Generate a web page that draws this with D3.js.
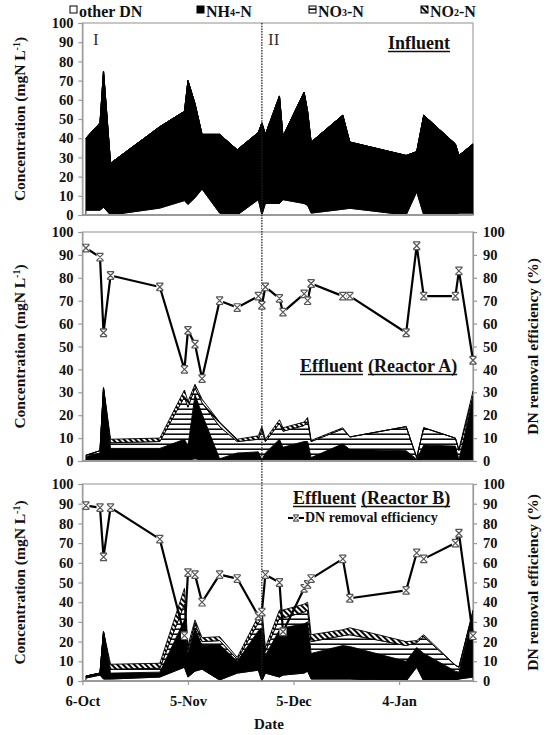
<!DOCTYPE html>
<html><head><meta charset="utf-8">
<script src="https://cdn.jsdelivr.net/npm/d3@7"></script>
<style>body{margin:0;background:#fff}svg{display:block}</style>
</head><body>
<svg id="chart" width="551" height="735"></svg>
<script>
// ---------------- DATA ----------------
const dates = ["2012-10-07","2012-10-11","2012-10-12","2012-10-14","2012-10-28","2012-11-04","2012-11-05","2012-11-07","2012-11-09","2012-11-14","2012-11-19","2012-11-25","2012-11-26","2012-11-27","2012-12-01","2012-12-02","2012-12-08","2012-12-09","2012-12-10","2012-12-19","2012-12-21","2013-01-06","2013-01-09","2013-01-11","2013-01-20","2013-01-21","2013-01-25"];
const xDomain = ["2012-10-06","2013-01-25"];
const xTickDates = ["2012-10-06","2012-11-05","2012-12-05","2013-01-04"];
const phaseBoundary = "2012-11-26";
const yTicks = [0,10,20,30,40,50,60,70,80,90,100];

// Influent (mgN/L)
const infOtherDN = [2.5,2.5,4,0,3.6,7.5,5.5,9,13.5,1,0,8,0,6,6,8,6,5,1,3,3.5,0,12,0,0,1,1];
const infNH4     = [37.5,45.5,71,27,42.4,46.5,64.5,49,28.5,41,34,35,48,36,56,33,58,49,37,49,34.5,31,21,52,37,30,36];
const infNO3     = [0,0,0,0,0,0,0,0,0,0,0,0,0,0,0,0,0,0,0,0,0,0,0,0,0,0,0];
const infNO2     = [0,0,0,0,0,0,0,0,0,0,0,0,0,0,0,0,0,0,0,0,0,0,0,0,0,0,0];

// Effluent Reactor A
const effAOtherDN = [0.5,0.5,0.5,0.5,0.5,0.5,0.5,1,0.5,0.5,0.5,0.5,0.5,0.5,0.5,0.5,0.5,0.5,0.5,0.5,0.5,0.5,0.3,0.5,0.5,0.3,0.5];
const effANH4     = [1.5,3,31,5,5,9,6,28,20,0.5,3,3.5,0,3,9,5.5,8,8,1,7,4.5,4,0.5,6.5,6,0.3,27];
const effANO3     = [0.5,1,0.5,2.5,3,18.5,17,3,5,14,5,5.5,13,5,7,7,7,9,7,6.5,5.5,10.5,0.7,7.5,3.5,4,1];
const effANO2     = [0,0,0,1.5,1.5,3,2.5,1.5,1.5,2,1,1.5,1.5,1,1.5,1.5,1.5,1.5,0.5,0.5,0,0,0,0,0,0.4,2];
const effAEfficiency = [93,89,56,81,76,40,57,51,36,70,67,72,68,76,71,65,73,70,77.5,72,72,56,94,72,72,83,44];

// Effluent Reactor B
const effBOtherDN = [1.5,3,1,1,2,7,2,5,6,0.5,4,5.5,0,4,2,3,4,5,1,1,1,0,7,0,0,1,2];
const effBNH4     = [1,1,24,3,2.5,24,12,22,12,18,6,20,27,9,24,24,25,25,13,17,16.5,10,10,14,5,3.5,32];
const effBNO3     = [0,0,0,2,2,8,2,2,2,2,1,4,5,2,6,5,6,6,6,5,6,8,2.5,8.5,3,2.5,1];
const effBNO2     = [0,0,0,2.5,2.5,8,2,2,2,2,1,3.5,5,2,4,4,4,4,3.5,3,3.5,2,1,1,0,0,1];
const effBEfficiency = [89,88,63,88,72,23,55,54,40,54,52,33,35,54,50,25,47,49,52,62,42,46,65,62,70,75,23];

const legendLabels = [
  {key:"other", parts:[["other DN",null]]},
  {key:"nh4", parts:[["NH",null],["4","sub"],["-N",null]]},
  {key:"no3", parts:[["NO",null],["3","sub"],["-N",null]]},
  {key:"no2", parts:[["NO",null],["2","sub"],["-N",null]]}
];

// ---------------- DRAW ----------------
const FONT = "'Liberation Serif','Times New Roman',serif";
const parse = d3.utcParse("%Y-%m-%d");
const svg = d3.select("#chart");
const X0 = 82.4, X1 = 473;
const x = d3.scaleUtc().domain(xDomain.map(parse)).range([X0, X1]);

const defs = svg.append("defs");
const hs = defs.append("pattern").attr("id","hs").attr("width",6).attr("height",5).attr("patternUnits","userSpaceOnUse");
hs.append("rect").attr("width",6).attr("height",5).attr("fill","#fff");
hs.append("line").attr("x1",0).attr("x2",6).attr("y1",4.2).attr("y2",4.2).attr("stroke","#000").attr("stroke-width",1.5);
const dh = defs.append("pattern").attr("id","dh").attr("width",4).attr("height",4).attr("patternUnits","userSpaceOnUse").attr("patternTransform","rotate(-45)");
dh.append("rect").attr("width",4).attr("height",4).attr("fill","#fff");
dh.append("line").attr("x1",1).attr("x2",1).attr("y1",0).attr("y2",4).attr("stroke","#000").attr("stroke-width",2.1);

const keys = ["other","nh4","no3","no2"];
const fills = {other:"#fff", nh4:"#000", no3:"url(#hs)", no2:"url(#dh)"};

const panels = [
  {top:23, bottom:215, other:infOtherDN, nh4:infNH4, no3:infNO3, no2:infNO2, eff:null},
  {top:232, bottom:461, other:effAOtherDN, nh4:effANH4, no3:effANO3, no2:effANO2, eff:effAEfficiency},
  {top:484, bottom:681, other:effBOtherDN, nh4:effBNH4, no3:effBNO3, no2:effBNO2, eff:effBEfficiency}
];

function drawMarker(g, s){
  s = s||1;
  g.append("rect").attr("x",-3.5*s).attr("y",-3.5*s).attr("width",7*s).attr("height",7*s).attr("fill","#fff");
  g.append("path").attr("d",`M${-3.5*s},${-3.5*s}L${3.5*s},${3.5*s}M${-3.5*s},${3.5*s}L${3.5*s},${-3.5*s}M${-3.5*s},${-3.8*s}H${3.5*s}M${-3.5*s},${3.8*s}H${3.5*s}`)
    .attr("stroke","#555").attr("stroke-width",1.2).attr("fill","none");
}

function styleAxis(g){
  g.select(".domain").attr("stroke","#999").attr("stroke-width",1.2);
  g.selectAll(".tick line").attr("stroke","#999").attr("stroke-width",1.2);
  g.selectAll(".tick text").attr("font-family",FONT).attr("font-weight","bold").attr("font-size",14.5).attr("fill","#111");
}

panels.forEach((p,pi)=>{
  const y = d3.scaleLinear().domain([0,100]).range([p.bottom,p.top]);
  const rows = dates.map((d,i)=>({date:parse(d), other:p.other[i], nh4:p.nh4[i], no3:p.no3[i], no2:p.no2[i]}));
  const stacked = d3.stack().keys(keys)(rows);
  const area = d3.area().x(d=>x(d.data.date)).y0(d=>y(d[0])).y1(d=>y(d[1]));
  const g = svg.append("g");
  // frame
  g.append("rect").attr("x",X0).attr("y",p.top).attr("width",X1-X0).attr("height",p.bottom-p.top)
    .attr("fill","none").attr("stroke","#aaa").attr("stroke-width",1.3);
  stacked.forEach(layer=>{
    g.append("path").datum(layer).attr("d",area).attr("fill",fills[layer.key])
      .attr("stroke","#000").attr("stroke-width",0.9).attr("stroke-linejoin","miter");
  });
  // baseline
  g.append("line").attr("x1",X0).attr("x2",X1).attr("y1",p.bottom).attr("y2",p.bottom).attr("stroke","#999").attr("stroke-width",2.2);
  // left axis
  const ax = g.append("g").attr("transform",`translate(${X0},0)`)
    .call(d3.axisLeft(y).tickValues(yTicks).tickSize(4).tickPadding(5));
  styleAxis(ax);
  // y title
  const cy = (p.top+p.bottom)/2;
  const t = g.append("text").attr("transform",`translate(25,${cy}) rotate(-90)`).attr("text-anchor","middle")
    .attr("font-family",FONT).attr("font-weight","bold").attr("font-size",15.5).attr("fill","#111");
  t.append("tspan").text("Concentration (mgN L");
  t.append("tspan").attr("font-size",10).attr("dy",-5).text("-1");
  t.append("tspan").attr("dy",5).text(")");
  if(p.eff){
    const axr = g.append("g").attr("transform",`translate(${X1},0)`)
      .call(d3.axisRight(y).tickValues(yTicks).tickSize(4).tickPadding(6));
    styleAxis(axr);
    g.append("text").attr("transform",`translate(538,${cy}) rotate(-90)`).attr("text-anchor","middle")
      .attr("font-family",FONT).attr("font-weight","bold").attr("font-size",15.5).attr("fill","#111")
      .text("DN removal efficiency (%)");
  }
  p.y = y; p.g = g;
});

// phase boundary dashed line
svg.append("line").attr("x1",x(parse(phaseBoundary))).attr("x2",x(parse(phaseBoundary)))
  .attr("y1",23).attr("y2",681).attr("stroke","#222").attr("stroke-width",1.3).attr("stroke-dasharray","1.5,1.2");

// efficiency lines
panels.forEach(p=>{
  if(!p.eff) return;
  const pts = dates.map((d,i)=>({date:parse(d), v:p.eff[i]}));
  const line = d3.line().x(d=>x(d.date)).y(d=>p.y(d.v));
  svg.append("path").datum(pts).attr("d",line).attr("fill","none").attr("stroke","#000").attr("stroke-width",2.2).attr("stroke-linejoin","round");
  pts.forEach(d=>{
    const mg = svg.append("g").attr("transform",`translate(${x(d.date)},${p.y(d.v)})`);
    drawMarker(mg,1);
  });
});

// x axis (bottom panel)
const xa = svg.append("g").attr("transform",`translate(0,681)`)
  .call(d3.axisBottom(x).tickValues(xTickDates.map(parse)).tickFormat(d3.utcFormat("%-d-%b")).tickSize(4).tickPadding(11));
styleAxis(xa);
xa.select(".domain").remove();
svg.append("text").attr("x",269).attr("y",729).attr("text-anchor","middle").attr("font-family",FONT)
  .attr("font-weight","bold").attr("font-size",15).attr("fill","#111").text("Date");

// Roman numerals
svg.append("text").attr("x",93).attr("y",45).attr("font-family",FONT).attr("font-size",17).attr("fill","#333").text("I");
svg.append("text").attr("x",268).attr("y",45).attr("font-family",FONT).attr("font-size",17).attr("fill","#333").text("II");

// underlined titles
function uTitle(xs, yb, words, size){
  let cx = xs;
  words.forEach((w,i)=>{
    const t = svg.append("text").attr("x",cx).attr("y",yb).attr("font-family",FONT).attr("font-weight","bold")
      .attr("font-size",size).attr("fill","#111").text(w);
    const wl = t.node().getComputedTextLength();
    svg.append("line").attr("x1",cx).attr("x2",cx+wl).attr("y1",yb+2.5).attr("y2",yb+2.5).attr("stroke","#111").attr("stroke-width",1.3);
    cx += wl + size*0.28;
  });
}
uTitle(388, 49, ["Influent"], 18);
uTitle(300, 372, ["Effluent","(Reactor A)"], 18);
uTitle(293, 504, ["Effluent","(Reactor B)"], 18);

// efficiency legend
svg.append("line").attr("x1",288).attr("x2",304).attr("y1",518).attr("y2",518).attr("stroke","#000").attr("stroke-width",2);
drawMarker(svg.append("g").attr("transform","translate(296,518)"),0.8);
svg.append("text").attr("x",305).attr("y",522).attr("font-family",FONT).attr("font-weight","bold").attr("font-size",14).attr("fill","#111").text("DN removal efficiency");

// top legend
const legX = [70,197,309,421];
legendLabels.forEach((l,i)=>{
  svg.append("rect").attr("x",legX[i]).attr("y",6).attr("width",7).attr("height",7)
    .attr("fill",fills[l.key]).attr("stroke","#000").attr("stroke-width",1);
  const t = svg.append("text").attr("x",legX[i]+9).attr("y",16).attr("font-family",FONT).attr("font-weight","bold")
    .attr("font-size",16).attr("fill","#111");
  l.parts.forEach(([s,k])=>{
    if(k==="sub") t.append("tspan").attr("font-size",10).attr("dy",-1).text(s);
    else t.append("tspan").attr("dy", t.selectAll("tspan").size()>0 ? 1 : 0).text(s);
  });
});
</script>
</body></html>
